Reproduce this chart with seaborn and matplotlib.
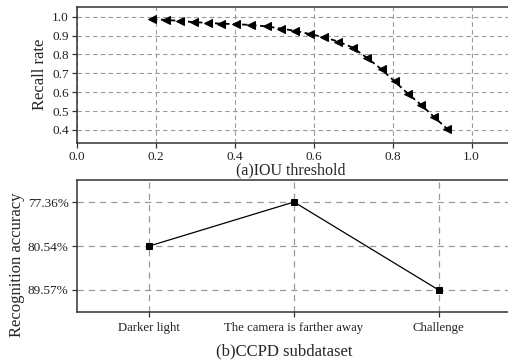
import matplotlib
matplotlib.use("Agg")
import matplotlib.pyplot as plt
import seaborn as sns
import numpy as np

# ---- data: panel (a)
iou_threshold = [0.19, 0.225, 0.262, 0.297, 0.331, 0.365, 0.402, 0.440, 0.482, 0.516, 0.553,
                 0.590, 0.626, 0.662, 0.699, 0.735, 0.772, 0.805, 0.839, 0.872, 0.904, 0.938]
recall_rate = [0.986, 0.983, 0.977, 0.971, 0.967, 0.963, 0.960, 0.956, 0.948, 0.937, 0.925,
               0.908, 0.891, 0.868, 0.836, 0.782, 0.721, 0.657, 0.592, 0.533, 0.471, 0.406]
top_xticks = [0.0, 0.2, 0.4, 0.6, 0.8, 1.0]
top_yticks = [0.4, 0.5, 0.6, 0.7, 0.8, 0.9, 1.0]

# ---- data: panel (b)
subsets = ["Darker light", "The camera is farther away", "Challenge"]
accuracy = ["80.54%", "77.36%", "89.57%"]
accuracy_ticklabels = ["77.36%", "80.54%", "89.57%"]

sns.set_theme(style="white")
plt.rcParams["font.family"] = ["Liberation Serif", "DejaVu Serif"]

W, H = 508, 363
fig = plt.figure(figsize=(W / 100, H / 100), dpi=100)
fig.patch.set_facecolor("white")

def box(l, t, r, b):
    return [l / W, 1 - b / H, (r - l) / W, (b - t) / H]

ax1 = fig.add_axes(box(77, 7, 511, 143))
ax2 = fig.add_axes(box(77, 180, 511, 312))

# ---- panel (a)
sns.lineplot(x=iou_threshold, y=recall_rate, ax=ax1, color="black", linestyle=(0, (3, 2)),
             linewidth=1.3, marker="<", markersize=5.5, markeredgecolor="black",
             markerfacecolor="black", sort=False)
ax1.set_xlim(0.0, 1.1)
ax1.set_ylim(0.331, 1.051)
ax1.set_xticks(top_xticks)
ax1.set_xticklabels([f"{v:.1f}" for v in top_xticks])
ax1.set_yticks(top_yticks)
ax1.set_yticklabels([f"{v:.1f}" for v in top_yticks])
ax1.grid(True, color="#9a9a9a", linestyle=(0, (4, 3)), linewidth=0.8)
ax1.set_axisbelow(True)

# ---- panel (b)
ypos = [accuracy_ticklabels.index(a) for a in accuracy]
xpos = list(range(len(subsets)))
sns.lineplot(x=xpos, y=ypos, ax=ax2, color="black", linestyle="-", linewidth=0.9,
             marker="s", markersize=4.8, markeredgecolor="black", markerfacecolor="black",
             sort=False)
ax2.set_xlim(-0.5, 2.5)
ax2.set_ylim(2.5, -0.5)
ax2.set_xticks(xpos)
ax2.set_xticklabels(subsets)
ax2.set_yticks(range(len(accuracy_ticklabels)))
ax2.set_yticklabels(accuracy_ticklabels)
ax2.grid(True, color="#9a9a9a", linestyle=(0, (5, 4)), linewidth=0.9)
ax2.set_axisbelow(True)

for ax in (ax1, ax2):
    ax.set_xlabel("")
    ax.set_ylabel("")
    for s in ax.spines.values():
        s.set_color("#333333")
        s.set_linewidth(1.1)
    ax.tick_params(axis="both", which="both", direction="out", length=3.5, width=0.9,
                   color="#333333", labelsize=9.5, labelcolor="#222222",
                   bottom=True, left=True)
    ax.tick_params(axis="y", pad=2.5)
ax1.tick_params(axis="x", pad=2)
ax2.tick_params(axis="x", pad=4, labelsize=9.2)

# labels
fig.text(291 / W, 1 - 170 / H, "(a)IOU threshold", ha="center", va="center", fontsize=11.5)
fig.text(284 / W, 1 - 351 / H, "(b)CCPD subdataset", ha="center", va="center", fontsize=12)
fig.text(40 / W, 1 - 74 / H, "Recall rate", ha="center", va="center", rotation=90, fontsize=12)
fig.text(17 / W, 1 - 265 / H, "Recognition accuracy", ha="center", va="center",
         rotation=90, fontsize=12)

fig.savefig("out.png", dpi=100, facecolor="white")
